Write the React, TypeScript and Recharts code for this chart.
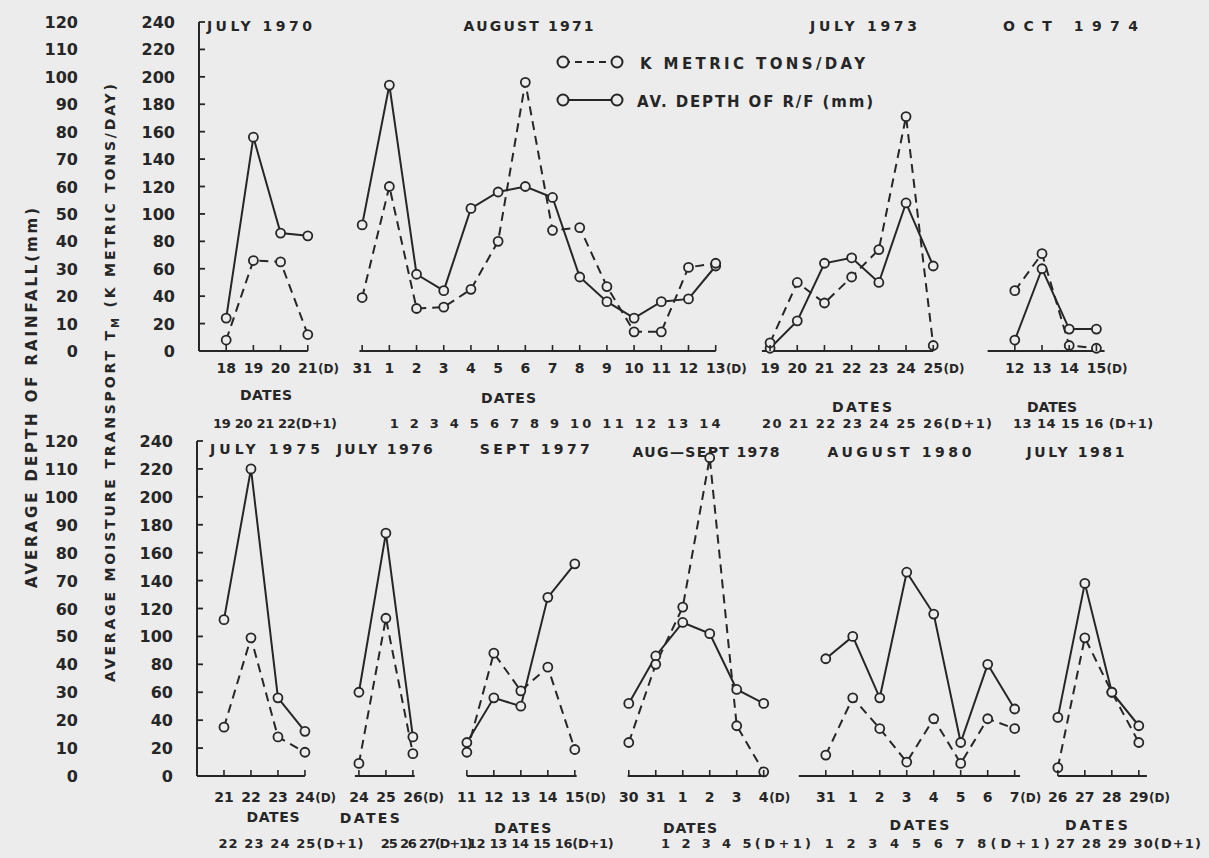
import React from 'react';
import { ComposedChart, Line, XAxis, YAxis, ReferenceLine, Legend } from 'recharts';

const FONT = '"DejaVu Sans", "Liberation Sans", Arial, sans-serif';
const INK = '#262626';
const BG = '#ececec';

// ---------------- data ----------------
const tmTicks = [0, 20, 40, 60, 80, 100, 120, 140, 160, 180, 200, 220, 240];
const rainTicks = [0, 10, 20, 30, 40, 50, 60, 70, 80, 90, 100, 110, 120];

const legendTmLabel = 'K METRIC TONS/DAY';
const legendRainLabel = 'AV. DEPTH OF R/F (mm)';
const rainAxisTitle = 'AVERAGE DEPTH OF RAINFALL(mm)';
const tmAxisTitleA = 'AVERAGE MOISTURE TRANSPORT T';
const tmAxisTitleSub = 'M';
const tmAxisTitleB = ' (K METRIC TONS/DAY)';
const datesWord = 'DATES';

// top panel
const jul1970Title = 'JULY 1970';
const jul1970Dates = ['18', '19', '20', '21(D)'];
const jul1970Rain = [12, 78, 43, 42];
const jul1970Tm = [8, 66, 65, 12];
const jul1970Next = '19 20 21 22(D+1)';

const aug1971Title = 'AUGUST 1971';
const aug1971Dates = ['31', '1', '2', '3', '4', '5', '6', '7', '8', '9', '10', '11', '12', '13(D)'];
const aug1971Rain = [46, 97, 28, 22, 52, 58, 60, 56, 27, 18, 12, 18, 19, 31];
const aug1971Tm = [39, 120, 31, 32, 45, 80, 196, 88, 90, 47, 14, 14, 61, 64];
const aug1971Next = '1 2 3 4 5 6 7 8 9 10 11 12 13 14';

const jul1973Title = 'JULY 1973';
const jul1973Dates = ['19', '20', '21', '22', '23', '24', '25(D)'];
const jul1973Rain = [1, 11, 32, 34, 25, 54, 31];
const jul1973Tm = [6, 50, 35, 54, 74, 171, 4];
const jul1973Next = '20 21 22 23 24 25 26(D+1)';

const oct1974Title = 'OCT  1974';
const oct1974Dates = ['12', '13', '14', '15(D)'];
const oct1974Rain = [4, 30, 8, 8];
const oct1974Tm = [44, 71, 4, 2];
const oct1974Next = '13 14 15 16 (D+1)';

// bottom panel
const jul1975Title = 'JULY 1975';
const jul1975Dates = ['21', '22', '23', '24(D)'];
const jul1975Rain = [56, 110, 28, 16];
const jul1975Tm = [35, 99, 28, 17];
const jul1975Next = '22 23 24 25(D+1)';

const jul1976Title = 'JULY 1976';
const jul1976Dates = ['24', '25', '26 (D)'];
const jul1976Rain = [30, 87, 14];
const jul1976Tm = [9, 113, 16];
const jul1976Next = '25 26 27(D+1)';

const sep1977Title = 'SEPT 1977';
const sep1977Dates = ['11', '12', '13', '14', '15(D)'];
const sep1977Rain = [12, 28, 25, 64, 76];
const sep1977Tm = [17, 88, 61, 78, 19];
const sep1977Next = '12 13 14 15 16(D+1)';

const augSep1978Title = 'AUG\u2014SEPT 1978';
const augSep1978Dates = ['30', '31', '1', '2', '3', '4 (D)'];
const augSep1978Rain = [26, 43, 55, 51, 31, 26];
const augSep1978Tm = [24, 80, 121, 228, 36, 3];
const augSep1978Next = '1 2 3 4 5(D+1)';

const aug1980Title = 'AUGUST 1980';
const aug1980Dates = ['31', '1', '2', '3', '4', '5', '6', '7 (D)'];
const aug1980Rain = [42, 50, 28, 73, 58, 12, 40, 24];
const aug1980Tm = [15, 56, 34, 10, 41, 9, 41, 34];
const aug1980Next = '1 2 3 4 5 6 7 8(D+1)';

const jul1981Title = 'JULY 1981';
const jul1981Dates = ['26', '27', '28', '29 (D)'];
const jul1981Rain = [21, 69, 30, 18];
const jul1981Tm = [6, 99, 60, 24];
const jul1981Next = '27 28 29 30(D+1)';

// ---------------- assembly ----------------
type Ev = { title: string; dates: string[]; rain: number[]; tm: number[]; next: string };
// layout: start slot, baseline padding (slots), title [dx, width, dy], dates word [dx, dy, width], next row [dx, width]
type Lay = { start: number; pad: number[]; title: number[]; dates: number[]; next: number[] };

const topEvents: Ev[] = [
  { title: jul1970Title, dates: jul1970Dates, rain: jul1970Rain, tm: jul1970Tm, next: jul1970Next },
  { title: aug1971Title, dates: aug1971Dates, rain: aug1971Rain, tm: aug1971Tm, next: aug1971Next },
  { title: jul1973Title, dates: jul1973Dates, rain: jul1973Rain, tm: jul1973Tm, next: jul1973Next },
  { title: oct1974Title, dates: oct1974Dates, rain: oct1974Rain, tm: oct1974Tm, next: oct1974Next },
];
const bottomEvents: Ev[] = [
  { title: jul1975Title, dates: jul1975Dates, rain: jul1975Rain, tm: jul1975Tm, next: jul1975Next },
  { title: jul1976Title, dates: jul1976Dates, rain: jul1976Rain, tm: jul1976Tm, next: jul1976Next },
  { title: sep1977Title, dates: sep1977Dates, rain: sep1977Rain, tm: sep1977Tm, next: sep1977Next },
  { title: augSep1978Title, dates: augSep1978Dates, rain: augSep1978Rain, tm: augSep1978Tm, next: augSep1978Next },
  { title: aug1980Title, dates: aug1980Dates, rain: aug1980Rain, tm: aug1980Tm, next: aug1980Next },
  { title: jul1981Title, dates: jul1981Dates, rain: jul1981Rain, tm: jul1981Tm, next: jul1981Next },
];

const topLayout: Lay[] = [
  { start: 1, pad: [1, 0], title: [6, 105, 9], dates: [12.6, 49, 52], next: [21.6, 124] },
  { start: 6, pad: [0.1, 0], title: [-9, 130, 9], dates: [-29, 52, 55], next: [17.6, 331] },
  { start: 21, pad: [0.3, 0], title: [16, 107, 9], dates: [14.5, 61, 60], next: [29.5, 230] },
  { start: 30, pad: [1, 0.3], title: [24.5, 135, 9], dates: [6, 61, 50], next: [37, 140] },
];
const bottomLayout: Lay[] = [
  { start: 1, pad: [1, 0], title: [14, 110, 13], dates: [22, 46, 53], next: [40, 145] },
  { start: 6, pad: [0.15, 0.07], title: [0, 96, 13], dates: [-15, 47, 60], next: [42, 92] },
  { start: 10, pad: [0, 0.07], title: [13, 110, 13], dates: [1, 57, 57], next: [19, 146] },
  { start: 16, pad: [0.04, 0.1], title: [9, 147, 16], dates: [-7, 57, 54], next: [39, 150] },
  { start: 23.3, pad: [1, 0.2], title: [-10, 144, 16], dates: [10, 54, 60], next: [27.7, 225] },
  { start: 31.9, pad: [0, 0.3], title: [-27, 98, 16], dates: [-6, 54, 63], next: [26, 145] },
];

const r2 = (v: number) => Math.round(v * 100) / 100;

function buildRows(events: Ev[], lay: Lay[]) {
  const rows: { slot: number; rain: number | null; tm: number | null }[] = [];
  events.forEach((ev, k) => {
    if (k > 0) rows.push({ slot: r2(lay[k].start - 0.5), rain: null, tm: null });
    ev.dates.forEach((_, i) => rows.push({ slot: r2(lay[k].start + i), rain: ev.rain[i], tm: ev.tm[i] }));
  });
  return rows;
}

function buildTicks(events: Ev[], lay: Lay[]) {
  const ticks: number[] = [];
  const map = new Map<number, string>();
  events.forEach((ev, k) => {
    ev.dates.forEach((d, i) => {
      const s = r2(lay[k].start + i);
      ticks.push(s);
      map.set(s, d);
    });
  });
  return { ticks, map };
}

const textStyle = { fontFamily: FONT, fontWeight: 700, fill: INK } as const;

const dateTick = (map: Map<number, string>, dy: number) => (p: any) => {
  const label = map.get(r2(p.payload.value)) ?? '';
  const m = label.match(/^(\d+)(.*)$/);
  const num = m ? m[1] : label;
  const suf = m ? m[2] : '';
  return (
    <g>
      <line x1={p.x} x2={p.x} y1={p.y} y2={p.y - 6} stroke={INK} strokeWidth={1.6} />
      <text x={p.x} y={p.y + dy} textAnchor="middle" fontSize={14} {...textStyle}>{num}</text>
      {suf ? (
        <text x={p.x + num.length * 4.6 + 1} y={p.y + dy} textAnchor="start" fontSize={12} {...textStyle}>{suf.trim()}</text>
      ) : null}
    </g>
  );
};

const yTick = (gap: number, inward: boolean) => (p: any) => (
  <g>
    {inward && p.payload.value > 0 ? (
      <line x1={p.x + gap} x2={p.x + gap + 6} y1={p.y} y2={p.y} stroke={INK} strokeWidth={1.8} />
    ) : null}
    <text x={p.x} y={p.y + 6} textAnchor="end" fontSize={16} {...textStyle}>{p.payload.value}</text>
  </g>
);

const baseLabel = (ev: Ev, l: Lay) => (props: any) => {
  const vb = props.viewBox;
  if (!vb) return null;
  const cx = vb.x + vb.width / 2;
  return (
    <g>
      <text x={cx + l.dates[0]} y={vb.y + l.dates[1]} textAnchor="middle" fontSize={14} textLength={l.dates[2]} lengthAdjust="spacing" {...textStyle}>{datesWord}</text>
      <text x={cx + l.next[0]} y={vb.y + l.next[2]} textAnchor="middle" fontSize={13} textLength={l.next[1]} lengthAdjust="spacing" {...textStyle}>{ev.next}</text>
    </g>
  );
};

const titleLabel = (ev: Ev, l: Lay) => (props: any) => {
  const vb = props.viewBox;
  if (!vb) return null;
  const cx = vb.x + vb.width / 2;
  return (
    <text x={cx + l.title[0]} y={vb.y + l.title[2]} textAnchor="middle" fontSize={14} textLength={l.title[1]} lengthAdjust="spacing" {...textStyle}>{ev.title}</text>
  );
};

const renderLegend = () => (
  <svg width={340} height={72} style={{ overflow: 'visible' }}>
    <line x1={15} x2={69} y1={18} y2={18} stroke={INK} strokeWidth={2} strokeDasharray="7 5" />
    <circle cx={15} cy={18} r={5.5} fill={BG} stroke={INK} strokeWidth={2} />
    <circle cx={69} cy={18} r={5.5} fill={BG} stroke={INK} strokeWidth={2} />
    <text x={92} y={25} fontSize={15} textLength={225} lengthAdjust="spacing" {...textStyle}>{legendTmLabel}</text>
    <line x1={15} x2={69} y1={56} y2={56} stroke={INK} strokeWidth={2} />
    <circle cx={15} cy={56} r={5.5} fill={BG} stroke={INK} strokeWidth={2} />
    <circle cx={69} cy={56} r={5.5} fill={BG} stroke={INK} strokeWidth={2} />
    <text x={89} y={63} fontSize={15} textLength={236} lengthAdjust="spacing" {...textStyle}>{legendRainLabel}</text>
  </svg>
);

type PanelProps = {
  events: Ev[];
  lay: Lay[];
  top: number;
  height: number;
  margin: { top: number; right: number; bottom: number; left: number };
  tmWidth: number;
  xMax: number;
  xHeight: number;
  tickDy: number;
  nextDy: number;
  legend?: boolean;
};

// axis ids: the transport axis sits next to the plot, the rainfall axis outside it
const TM_ID = 'a-transport';
const RAIN_ID = 'b-rainfall';

function Panel({ events, lay, top, height, margin, tmWidth, xMax, xHeight, tickDy, nextDy, legend }: PanelProps) {
  const rows = buildRows(events, lay);
  const { ticks, map } = buildTicks(events, lay);
  const layN = lay.map((l) => ({ ...l, next: [l.next[0], l.next[1], nextDy] }));
  return (
    <div style={{ position: 'absolute', left: 0, top }}>
      <ComposedChart width={1209} height={height} data={rows} margin={margin}>
        <XAxis
          dataKey="slot"
          type="number"
          domain={[0, xMax]}
          ticks={ticks}
          interval={0}
          axisLine={false}
          tickLine={false}
          tickSize={0}
          tickMargin={0}
          height={xHeight}
          tick={dateTick(map, tickDy)}
          allowDataOverflow
        />
        <YAxis
          yAxisId={TM_ID}
          domain={[0, 240]}
          ticks={tmTicks}
          interval={0}
          width={tmWidth}
          axisLine={{ stroke: INK, strokeWidth: 2 }}
          tickLine={false}
          tickSize={0}
          tickMargin={24}
          tick={yTick(24, true)}
        />
        <YAxis
          yAxisId={RAIN_ID}
          domain={[0, 120]}
          ticks={rainTicks}
          interval={0}
          width={80}
          axisLine={false}
          tickLine={false}
          tickSize={0}
          tickMargin={12}
          tick={yTick(12, false)}
        />
        {events.map((ev, k) => {
          const l = layN[k];
          const a = r2(l.start - l.pad[0]);
          const b = r2(l.start + ev.dates.length - 1 + l.pad[1]);
          return (
            <ReferenceLine
              key={'base' + k}
              yAxisId={TM_ID}
              ifOverflow="visible"
              segment={[{ x: a, y: 0 }, { x: b, y: 0 }]}
              stroke={INK}
              strokeWidth={2}
              label={baseLabel(ev, l)}
            />
          );
        })}
        {events.map((ev, k) => {
          const l = layN[k];
          const a = r2(l.start - l.pad[0]);
          const b = r2(l.start + ev.dates.length - 1 + l.pad[1]);
          return (
            <ReferenceLine
              key={'title' + k}
              yAxisId={TM_ID}
              ifOverflow="visible"
              segment={[{ x: a, y: 240 }, { x: b, y: 240 }]}
              stroke="transparent"
              strokeWidth={0}
              label={titleLabel(ev, l)}
            />
          );
        })}
        <Line
          yAxisId={RAIN_ID}
          dataKey="rain"
          type="linear"
          stroke={INK}
          strokeWidth={2}
          connectNulls={false}
          dot={{ r: 4.5, fill: BG, stroke: INK, strokeWidth: 1.8, strokeDasharray: 'none' }}
          activeDot={false}
          isAnimationActive={false}
        />
        <Line
          yAxisId={TM_ID}
          dataKey="tm"
          type="linear"
          stroke={INK}
          strokeWidth={2}
          strokeDasharray="9 6"
          connectNulls={false}
          dot={{ r: 4.5, fill: BG, stroke: INK, strokeWidth: 1.8, strokeDasharray: 'none' }}
          activeDot={false}
          isAnimationActive={false}
        />
        {legend ? (
          <Legend
            layout="horizontal"
            verticalAlign="middle"
            align="center"
            content={renderLegend}
            wrapperStyle={{ position: 'absolute', left: 548, top: 44, width: 340, height: 72 }}
          />
        ) : null}
      </ComposedChart>
    </div>
  );
}

export default function App() {
  return (
    <div style={{ position: 'absolute', left: 0, top: 0, width: 1209, height: 858, background: BG, overflow: 'hidden', fontFamily: FONT }}>
      <Panel
        events={topEvents}
        lay={topLayout}
        top={0}
        height={440}
        margin={{ top: 22, right: 99, bottom: 0, left: 10 }}
        tmWidth={109}
        xMax={33.5}
        xHeight={89}
        tickDy={22}
        nextDy={77}
        legend
      />
      <Panel
        events={bottomEvents}
        lay={bottomLayout}
        top={420}
        height={438}
        margin={{ top: 21, right: 54, bottom: 0, left: 10 }}
        tmWidth={107}
        xMax={35.5}
        xHeight={82}
        tickDy={26}
        nextDy={72}
      />
      <svg width={1209} height={858} style={{ position: 'absolute', left: 0, top: 0, pointerEvents: 'none' }}>
        <text transform="translate(37, 588) rotate(-90)" fontSize={15} textLength={380} lengthAdjust="spacing" {...textStyle}>
          {rainAxisTitle}
        </text>
        <text transform="translate(115, 682) rotate(-90)" fontSize={14} textLength={598} lengthAdjust="spacing" {...textStyle}>
          {tmAxisTitleA}
          <tspan fontSize={10} dy={4}>{tmAxisTitleSub}</tspan>
          <tspan dy={-4}>{tmAxisTitleB}</tspan>
        </text>
      </svg>
    </div>
  );
}
